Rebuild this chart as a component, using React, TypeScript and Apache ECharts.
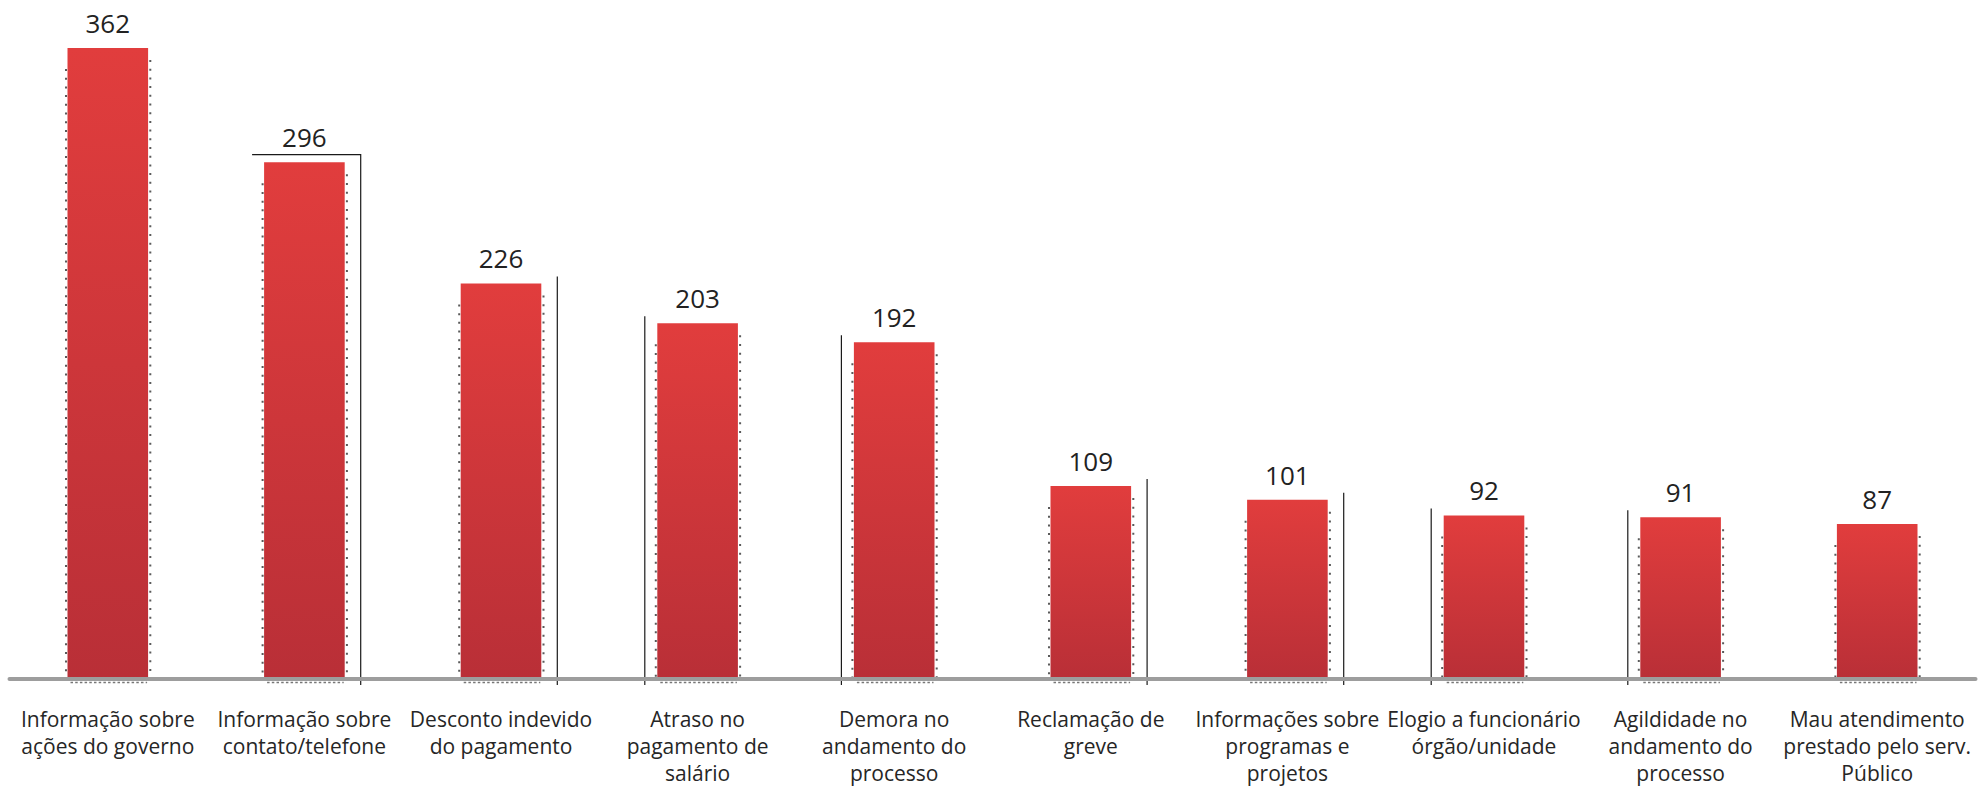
import React, { useEffect, useRef } from "react";
import * as echarts from "echarts";

const categories: string[] = [
  "Informação sobre\nações do governo",
  "Informação sobre\ncontato/telefone",
  "Desconto indevido\ndo pagamento",
  "Atraso no\npagamento de\nsalário",
  "Demora no\nandamento do\nprocesso",
  "Reclamação de\ngreve",
  "Informações sobre\nprogramas e\nprojetos",
  "Elogio a funcionário\nórgão/unidade",
  "Agildidade no\nandamento do\nprocesso",
  "Mau atendimento\nprestado pelo serv.\nPúblico",
];

const values: number[] = [362, 296, 226, 203, 192, 109, 101, 92, 91, 87];

// thin frame artifacts next to some bars in the original picture
const frames: string[] = ["", "box", "right", "left", "left", "right", "right", "left", "left", ""];

export default function App() {
  const ref = useRef<HTMLDivElement>(null);

  useEffect(() => {
    if (!ref.current) return;
    const chart = echarts.init(ref.current, undefined, { renderer: "svg" });

    const renderItem = (params: any, api: any) => {
      const i = api.value(0);
      const v = api.value(1);
      const topPt = api.coord([i, v]);
      const cs = params.coordSys;
      const bottom = cs.y + cs.height;
      const bw = api.size([1, 0])[0] * 0.41;
      const left = topPt[0] - bw / 2;
      const right = topPt[0] + bw / 2;
      const top = topPt[1];
      const axisTop = bottom - 2;

      const children: any[] = [
        {
          type: "rect",
          shape: { x: left, y: top, width: bw, height: bottom - top },
          style: {
            fill: new echarts.graphic.LinearGradient(0, 0, 0, 1, [
              { offset: 0, color: "#e13d3d" },
              { offset: 1, color: "#b92f37" },
            ]),
          },
        },
        {
          type: "line",
          shape: { x1: right + 2.2, y1: top + 12, x2: right + 2.2, y2: axisTop },
          style: { stroke: "#5a5a5a", lineWidth: 2, lineDash: [2, 6.7] },
        },
        {
          type: "line",
          shape: { x1: left - 1.5, y1: top + 21, x2: left - 1.5, y2: axisTop },
          style: { stroke: "#5a5a5a", lineWidth: 2, lineDash: [2, 6.7] },
        },
        {
          type: "line",
          shape: { x1: left + 3, y1: bottom + 3.5, x2: right - 1, y2: bottom + 3.5 },
          style: { stroke: "#777777", lineWidth: 1.5, lineDash: [2.5, 2.2] },
        },
        {
          type: "text",
          style: {
            text: String(v),
            x: topPt[0],
            y: top - 12,
            align: "center",
            verticalAlign: "bottom",
            fontSize: 26,
            fontFamily: "Open Sans",
            fill: "#222222",
          },
        },
      ];

      const f = frames[i];
      const lineStyle = { stroke: "#1a1a1a", lineWidth: 1.2 };
      if (f === "left") {
        const x = left - 12.5;
        children.push({
          type: "line",
          shape: { x1: x, y1: top - 7, x2: x, y2: bottom + 6 },
          style: lineStyle,
        });
      } else if (f === "right") {
        const x = right + 16;
        children.push({
          type: "line",
          shape: { x1: x, y1: top - 7, x2: x, y2: bottom + 6 },
          style: lineStyle,
        });
      } else if (f === "box") {
        const x = right + 16;
        children.push({
          type: "polyline",
          shape: {
            points: [
              [left - 12, top - 7.6],
              [x, top - 7.6],
              [x, bottom + 6],
            ],
          },
          style: { ...lineStyle, fill: null },
        });
      }

      return { type: "group", children };
    };

    chart.setOption({
      animation: false,
      backgroundColor: "#ffffff",
      grid: { left: 9.5, right: 5.5, top: 48, bottom: 108, containLabel: false },
      xAxis: {
        type: "category",
        data: categories,
        z: 5,
        axisLine: { onZero: false, lineStyle: { color: "#9d9d9d", width: 4 } },
        axisTick: { show: false },
        axisLabel: {
          interval: 0,
          margin: 26,
          fontSize: 21,
          lineHeight: 27,
          fontFamily: "Open Sans",
          color: "#262626",
        },
      },
      yAxis: {
        type: "value",
        min: -2.5,
        max: 362,
        show: false,
        splitLine: { show: false },
      },
      series: [
        {
          type: "custom",
          renderItem,
          data: values.map((v, i) => [i, v]),
          clip: false,
        },
      ],
    });

    return () => chart.dispose();
  }, []);

  return (
    <div
      ref={ref}
      style={{ position: "absolute", left: 0, top: 0, width: 1981, height: 787 }}
    />
  );
}
